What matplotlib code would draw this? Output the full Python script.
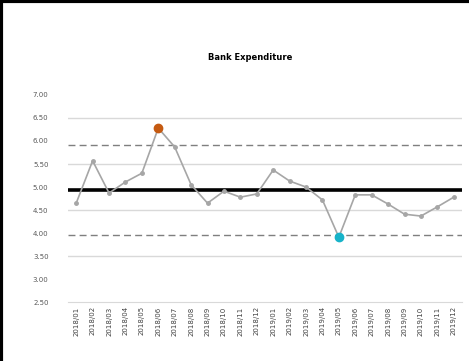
import matplotlib.pyplot as plt
from matplotlib.lines import Line2D
import numpy as np

# monthly spend rate
months = ['2018/01', '2018/02', '2018/03', '2018/04', '2018/05', '2018/06',
          '2018/07', '2018/08', '2018/09', '2018/10', '2018/11', '2018/12',
          '2019/01', '2019/02', '2019/03', '2019/04', '2019/05', '2019/06',
          '2019/07', '2019/08', '2019/09', '2019/10', '2019/11', '2019/12']
rate = [4.65, 5.57, 4.87, 5.11, 5.30, 6.28, 5.87, 5.05, 4.65, 4.91, 4.78, 4.85,
        5.37, 5.13, 5.00, 4.72, 3.91, 4.83, 4.83, 4.63, 4.41, 4.37, 4.57, 4.78]
center = 4.93
upper = 5.91
lower = 3.96
yticks = [2.5, 3.0, 3.5, 4.0, 4.5, 5.0, 5.5, 6.0, 6.5, 7.0]
grid_at = [3.5, 4.5, 5.5, 6.5]

fig = plt.figure(figsize=(4.69, 3.61), dpi=100)
ax = fig.add_axes([0.145, 0.163, 0.84, 0.574])

x = np.arange(len(rate))
for g in grid_at:
    ax.axhline(g, color='#d9d9d9', lw=1.0, zorder=1)
ax.axhline(center, color='black', lw=2.6, zorder=2)
ax.axhline(upper, color='#7f7f7f', lw=1.0, ls=(0, (5, 3)), zorder=2)
ax.axhline(lower, color='#7f7f7f', lw=1.0, ls=(0, (5, 3)), zorder=2)

ax.plot(x, rate, color='#a6a6a6', lw=1.2, marker='o', ms=2.5,
        mfc='#a6a6a6', mec='#a6a6a6', zorder=3)
imax = int(np.argmax(rate))
imin = int(np.argmin(rate))
ax.plot(x[imax], rate[imax], 'o', ms=6, color='#c55a11', zorder=4)
ax.plot(x[imin], rate[imin], 'o', ms=6, color='#17b3c9', zorder=4)

ax.set_xlim(-0.5, len(rate) - 0.5)
ax.set_ylim(2.5, 7.0)
ax.set_yticks(yticks)
ax.set_yticklabels(['%.2f' % v for v in yticks], fontsize=5, color='#595959')
ax.set_xticks(x)
ax.set_xticklabels(months, rotation=90, fontsize=5, color='#404040')
ax.tick_params(length=0, pad=14)
ax.tick_params(axis='x', pad=3)
for s in ['top', 'right', 'left']:
    ax.spines[s].set_visible(False)
ax.spines['bottom'].set_color('#d9d9d9')

fig.text(0.533, 0.84, 'Bank Expenditure', ha='center', va='center',
         fontsize=6, fontweight='bold')

# outer frame on the left and top
fig.add_artist(Line2D([0.003, 0.003], [0, 1], color='black', lw=3,
                      transform=fig.transFigure))
fig.add_artist(Line2D([0, 1], [0.996, 0.996], color='black', lw=3,
                      transform=fig.transFigure))

fig.savefig('out.png', dpi=100)
